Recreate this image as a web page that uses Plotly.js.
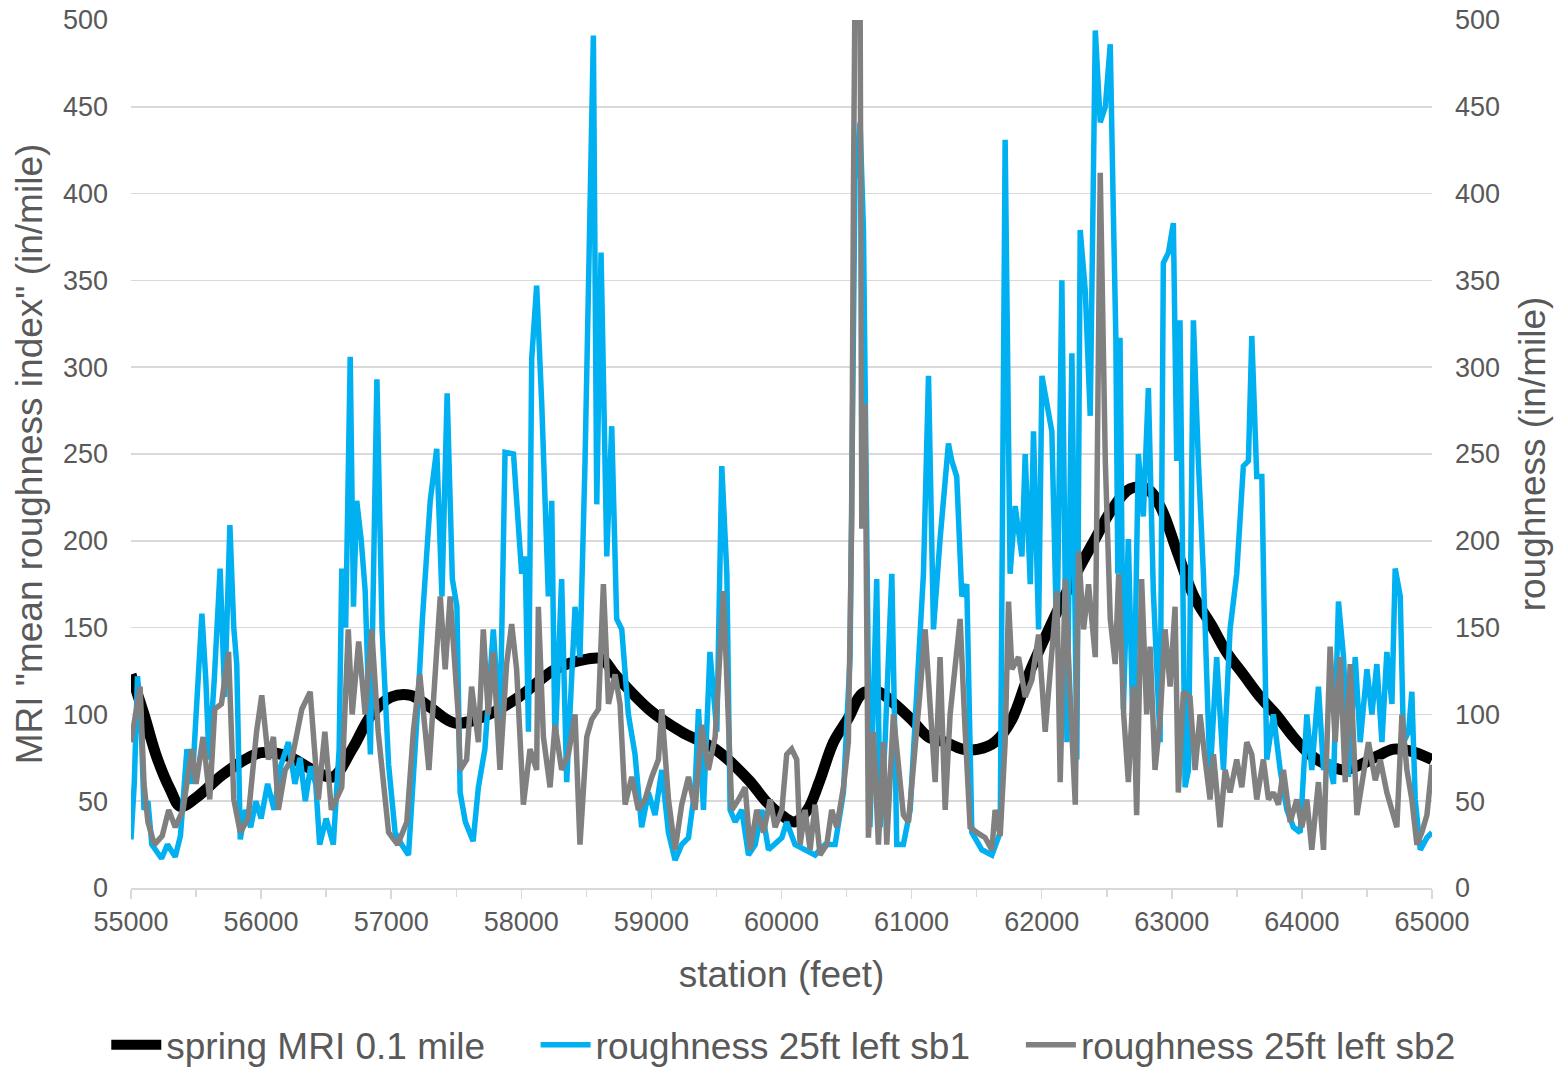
<!DOCTYPE html>
<html><head><meta charset="utf-8">
<script src="https://cdn.plot.ly/plotly-3.0.1.min.js"></script>
<style>html,body{margin:0;padding:0;background:#fff}#chart{width:1558px;height:1067px}</style>
</head><body><div id="chart"></div>
<script>
// spring MRI 0.1 mile (smooth)
const mriStation = [55000,55100,55200,55300,55380,55500,55700,55900,56000,56200,56400,56550,56700,56850,57000,57150,57300,57490,57750,58000,58260,58515,58620,58720,58980,59230,59490,59750,59880,60000,60100,60200,60290,60400,60515,60620,60745,60870,61000,61130,61260,61390,61515,61640,61770,61900,62030,62155,62285,62410,62530,62680,62810,62910,63040,63170,63300,63420,63550,63680,63800,63935,64060,64190,64320,64450,64580,64705,64830,65000];
const mriValue = [123,100,75,57,47,52,65,75,78,76,68,64,80,100,110,111,104,95,100,111,126,132,132,123,103,90,80,62,50,42,38,45,61,84,98,112,113,106,97,87,84,80,80,84,97,123,145,165,184,201,217,230,230,220,194,168,152,136,123,110,100,87,77,71,68,71,76,80,79,74];

// roughness 25ft left sb1
const sb1Station = [55000,55025,55050,55075,55100,55130,55160,55200,55235,55280,55340,55380,55430,55470,55510,55545,55575,55600,55640,55685,55720,55760,55790,55813,55840,55880,55920,55960,56000,56050,56100,56150,56210,56260,56300,56340,56380,56420,56450,56500,56555,56600,56620,56650,56685,56710,56735,56770,56800,56840,56890,56930,56980,57030,57080,57133,57200,57240,57300,57350,57390,57430,57470,57505,57530,57570,57630,57670,57720,57785,57836,57875,57940,57977,58003,58030,58055,58080,58118,58157,58182,58208,58234,58259,58310,58349,58413,58451,58490,58528,58554,58580,58613,58631,58657,58695,58733,58772,58823,58874,58925,58977,59028,59080,59131,59182,59233,59285,59336,59362,59400,59450,59503,59541,59580,59605,59644,59695,59746,59798,59849,59900,59951,60003,60040,60104,60181,60258,60335,60412,60476,60527,60565,60604,60630,60655,60680,60732,60758,60796,60848,60886,60937,60989,61040,61091,61130,61168,61219,61283,61309,61347,61386,61424,61463,61540,61617,61681,61719,61757,61796,61848,61873,61912,61937,61976,62002,62040,62078,62117,62155,62194,62232,62270,62296,62335,62373,62412,62450,62489,62527,62550,62570,62585,62602,62628,62666,62705,62743,62781,62820,62858,62910,62935,62974,63012,63038,63063,63102,63128,63166,63204,63243,63294,63345,63397,63448,63499,63550,63589,63615,63653,63692,63730,63781,63833,63884,63935,63987,64038,64076,64127,64166,64204,64243,64281,64320,64358,64410,64448,64500,64538,64576,64615,64653,64692,64717,64756,64781,64820,64845,64871,64910,64961,65000];
const sb1Value = [28,60,122,100,45,50,25,20,17,25,18,30,80,60,110,158,120,74,120,184,110,209,150,129,28,45,35,50,40,60,45,70,84,60,75,50,70,60,25,40,25,80,184,150,306,162,223,200,171,77,293,149,71,32,25,19,100,155,223,253,168,285,178,162,55,38,27,58,80,149,90,251,250,204,181,191,90,305,347,279,223,168,223,80,178,61,162,133,246,373,491,221,366,295,191,266,155,149,100,77,35,55,42,68,32,16,25,29,58,103,45,136,90,243,181,45,38,45,19,25,45,22,25,29,38,25,22,19,25,25,55,133,408,441,379,204,35,178,35,84,181,25,25,45,116,181,295,149,201,256,246,237,168,175,32,22,19,32,431,181,220,191,250,175,263,149,295,279,263,139,350,84,308,74,379,344,272,494,441,450,486,392,317,181,317,103,201,80,250,214,288,171,84,360,366,383,246,327,58,68,327,246,181,64,133,68,149,181,243,246,318,237,237,74,100,68,45,35,32,100,68,116,68,74,60,165,133,64,133,84,126,100,129,84,136,106,184,168,84,90,113,51,22,29,32];

// roughness 25ft left sb2
const sb2Station = [55000,55070,55100,55130,55180,55240,55290,55340,55400,55467,55500,55554,55605,55644,55695,55750,55790,55840,55900,55965,56005,56056,56095,56133,56185,56236,56313,56377,56440,56490,56540,56620,56670,56700,56750,56800,56850,56900,56980,57050,57120,57170,57220,57290,57377,57415,57453,57515,57530,57580,57618,57670,57708,57746,57785,57836,57887,57926,57964,58016,58067,58118,58131,58170,58221,58259,58310,58362,58413,58451,58503,58541,58593,58631,58670,58721,58759,58798,58849,58900,58951,59003,59054,59080,59131,59182,59233,59285,59336,59387,59438,59490,59554,59592,59618,59670,59721,59759,59810,59862,59913,59951,60003,60040,60078,60117,60143,60181,60220,60258,60296,60348,60386,60425,60476,60514,60540,60553,60565,60604,60617,60642,60668,60707,60745,60784,60809,60860,60899,60937,60976,61027,61065,61104,61142,61181,61219,61258,61296,61335,61373,61412,61450,61501,61565,61617,61642,61681,61719,61745,61771,61822,61873,61925,61976,62027,62078,62117,62142,62181,62219,62258,62283,62322,62360,62412,62450,62489,62527,62565,62592,62630,62666,62705,62730,62768,62807,62833,62871,62910,62948,62987,63025,63050,63089,63140,63179,63217,63256,63294,63320,63371,63410,63448,63499,63538,63576,63615,63653,63704,63743,63781,63820,63858,63910,63961,64000,64038,64076,64127,64166,64217,64256,64294,64333,64371,64423,64474,64512,64564,64602,64653,64692,64730,64769,64807,64845,64884,64922,64961,65000];
const sb2Value = [84,116,60,38,25,30,45,35,45,80,60,87,51,103,106,136,51,32,40,90,111,74,87,45,68,74,103,113,51,90,45,58,149,100,142,100,149,90,32,25,38,90,123,68,168,126,168,100,68,74,116,84,149,100,136,68,129,152,126,48,80,68,162,87,58,94,68,77,100,25,87,97,103,175,106,123,106,48,64,45,51,64,74,103,51,22,48,64,45,94,68,87,171,100,45,51,58,22,45,32,51,35,45,77,80,74,25,45,22,48,19,25,45,35,58,84,214,402,520,520,207,279,29,90,25,84,25,100,71,42,38,77,113,149,100,61,133,45,100,126,155,90,35,32,29,22,45,30,84,165,126,133,110,120,146,90,139,171,61,178,110,48,194,149,175,133,412,246,155,129,181,100,61,116,42,178,100,139,68,97,149,116,162,55,113,110,68,100,74,51,77,35,68,55,74,58,84,77,51,74,51,55,48,68,38,51,35,51,22,61,22,139,84,133,61,129,42,68,84,62,74,55,45,35,100,68,51,25,32,42,71];

const xTickStart = 55000, xTickEnd = 65000;
const textColor = '#595959', gridColor = '#d9d9d9';
const fontFamily = 'Liberation Sans, Arial, sans-serif';

const traces = [
  {x: mriStation, y: mriValue, name: 'spring MRI 0.1 mile', type: 'scatter', mode: 'lines',
   line: {color: '#000000', width: 11, shape: 'spline', smoothing: 1}, xaxis: 'x', yaxis: 'y', legend: 'legend'},
  {x: sb1Station, y: sb1Value, name: 'roughness 25ft left sb1', type: 'scatter', mode: 'lines',
   line: {color: '#00b0f0', width: 5.5}, xaxis: 'x', yaxis: 'y', legend: 'legend2'},
  {x: sb2Station, y: sb2Value, name: 'roughness 25ft left sb2', type: 'scatter', mode: 'lines',
   line: {color: '#808080', width: 5.5}, xaxis: 'x', yaxis: 'y2', legend: 'legend3'}
];

function legendAt(xPaper) {
  return {orientation: 'h', x: xPaper, xanchor: 'left', y: -0.181, yanchor: 'middle',
          font: {size: 37, color: textColor, family: fontFamily}, itemwidth: 50,
          bgcolor: 'rgba(0,0,0,0)'};
}

const layout = {
  width: 1558, height: 1067,
  margin: {l: 131, r: 126, t: 20, b: 179, autoexpand: false},
  paper_bgcolor: '#ffffff', plot_bgcolor: '#ffffff',
  font: {family: fontFamily, color: textColor, size: 27},
  showlegend: true,
  legend: legendAt(-0.019),
  legend2: legendAt(0.311),
  legend3: legendAt(0.684),
  xaxis: {range: [xTickStart, xTickEnd], tick0: xTickStart, dtick: 1000, tickformat: 'd',
          ticks: 'outside', ticklen: 9, tickwidth: 1.5, tickcolor: gridColor,
          minor: {dtick: 500, ticks: 'outside', ticklen: 7, tickwidth: 1.5, tickcolor: gridColor, showgrid: false},
          showline: true, linecolor: gridColor, linewidth: 2, showgrid: false, zeroline: false,
          tickfont: {size: 27, color: textColor}, ticklabelstandoff: 0,
          title: {text: 'station (feet)', font: {size: 37, color: textColor}, standoff: 25},
          automargin: false},
  xaxis2: {range: [xTickStart, xTickEnd], tick0: xTickStart, dtick: 1000, overlaying: 'x', anchor: 'y',
           ticks: 'inside', ticklen: 8, tickwidth: 1.5, tickcolor: gridColor,
           minor: {dtick: 500, ticks: 'inside', ticklen: 7, tickwidth: 1.5, tickcolor: gridColor, showgrid: false},
           showticklabels: false, showline: false, showgrid: false, zeroline: false},
  yaxis: {range: [0, 500], dtick: 50, tick0: 0, showgrid: true, gridcolor: gridColor, gridwidth: 1.5,
          zeroline: false, showline: false, ticks: '', ticklabelstandoff: 22,
          tickfont: {size: 27, color: textColor},
          title: {text: 'MRI "mean roughness index" (in/mile)', font: {size: 37, color: textColor}, standoff: 8},
          automargin: false},
  yaxis2: {range: [0, 500], dtick: 50, tick0: 0, overlaying: 'y', side: 'right', anchor: 'x',
           showgrid: false, zeroline: false, showline: false, ticks: '', ticklabelstandoff: 22,
           tickfont: {size: 27, color: textColor},
           title: {text: 'roughness (in/mile)', font: {size: 37, color: textColor}, standoff: 20},
           automargin: false}
};

Plotly.newPlot('chart', traces, layout, {displayModeBar: false, staticPlot: true});
</script></body></html>
